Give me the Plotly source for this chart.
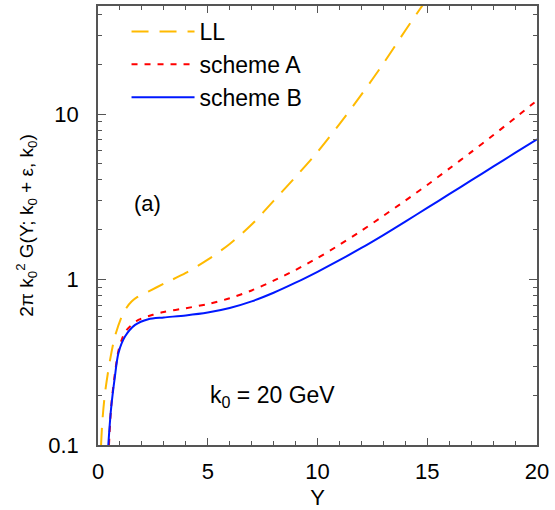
import math
import plotly.graph_objects as go

# LL
Y_LL = [0.14, 0.2, 0.32, 0.55, 0.77, 1.08, 1.3, 1.53, 1.8, 2.29, 3.0, 4.0, 5.0, 6.0, 7.0, 8.0, 9.0,
        10.0, 11.0, 12.0, 13.0, 14.0, 15.0]
G_LL = [0.1, 0.14, 0.206, 0.327, 0.452, 0.597, 0.675, 0.736, 0.785, 0.846, 0.944, 1.096, 1.318, 1.64, 2.15, 2.99, 4.17,
        5.9, 8.7, 13.1, 20.2, 32.0, 50.0]

# scheme A
Y_A = [0.5, 0.6, 0.77, 0.93, 1.1, 1.31, 1.84, 2.5, 3.0, 4.0, 5.0, 6.0, 7.0, 8.0, 9.0,
       10.0, 11.0, 12.0, 13.0, 14.0, 15.0, 16.0, 17.0, 18.0, 19.0, 20.0]
G_A = [0.1, 0.17, 0.27, 0.37, 0.44, 0.497, 0.57, 0.612, 0.637, 0.671, 0.711, 0.771, 0.859, 0.984, 1.143,
       1.349, 1.622, 1.972, 2.427, 3.0, 3.73, 4.68, 5.89, 7.45, 9.46, 12.1]

# scheme B
Y_B = [0.47, 0.59, 0.77, 0.93, 1.23, 1.69, 2.29, 3.0, 4.0, 5.0, 6.0, 7.0, 8.0, 9.0,
       10.0, 11.0, 12.0, 13.0, 14.0, 15.0, 16.0, 17.0, 18.0, 19.0, 20.0]
G_B = [0.1, 0.163, 0.259, 0.359, 0.452, 0.532, 0.576, 0.590, 0.607, 0.632, 0.673, 0.738, 0.832, 0.957,
       1.114, 1.309, 1.552, 1.858, 2.239, 2.710, 3.281, 3.972, 4.808, 5.821, 7.047]

X_TICKS = [0, 5, 10, 15, 20]
Y_TICKS = [0.1, 1, 10]
Y_TICK_TEXT = ["0.1", "1", "10"]
Y_MINOR = [0.2, 0.3, 0.4, 0.5, 0.6, 0.7, 0.8, 0.9, 2, 3, 4, 5, 6, 7, 8, 9, 20, 30, 40]

FONT = "Liberation Sans, Arial, sans-serif"
FS = 22

fig = go.Figure()
fig.add_trace(go.Scatter(x=Y_LL, y=G_LL, mode="lines", name="LL", legendgroup="g1",
                         line=dict(color="#FFBA00", width=2, dash="17px,11px", shape="spline", smoothing=0.8)))
fig.add_trace(go.Scatter(x=Y_A, y=G_A, mode="lines", name="scheme A", legendgroup="g2",
                         line=dict(color="#FF0000", width=2, dash="6px,7px", shape="spline", smoothing=0.8)))
fig.add_trace(go.Scatter(x=Y_B, y=G_B, mode="lines", name="scheme B", legendgroup="g3",
                         line=dict(color="#0018FF", width=2, shape="spline", smoothing=0.8)))

fig.update_layout(
    width=555, height=510,
    margin=dict(l=98, r=18, t=6, b=65),
    plot_bgcolor="white", paper_bgcolor="white",
    font=dict(family=FONT, size=FS, color="black"),
    showlegend=True,
    legend=dict(x=0.065, y=0.991, xanchor="left", yanchor="top", bgcolor="rgba(0,0,0,0)",
                font=dict(size=23, family=FONT), itemwidth=63, tracegroupgap=0,
                traceorder="grouped"),
    annotations=[
        dict(text="(a)", x=0.077, y=0.551, xref="paper", yref="paper", xanchor="left",
             yanchor="middle", showarrow=False, font=dict(size=FS, family=FONT)),
        dict(text="k<sub>0</sub> = 20 GeV", x=0.251, y=0.11, xref="paper", yref="paper",
             xanchor="left", yanchor="middle", showarrow=False, font=dict(size=23, family=FONT)),
    ],
)

fig.update_xaxes(range=[0, 20], tickvals=X_TICKS, ticks="inside", ticklen=7, tickcolor="#555",
                 minor=dict(ticks="inside", ticklen=4, dtick=1, tickcolor="#555", showgrid=False),
                 showline=True, linecolor="#555", linewidth=1.5, mirror="ticks",
                 showgrid=False, zeroline=False, ticklabelstandoff=6, automargin=False,
                 title=dict(text="Y", standoff=16, font=dict(size=FS)))
fig.update_yaxes(type="log", range=[-1, math.log10(45)], tickvals=Y_TICKS, ticktext=Y_TICK_TEXT,
                 ticks="inside", ticklen=8, tickcolor="#555",
                 minor=dict(ticks="inside", ticklen=4, tickvals=Y_MINOR, tickcolor="#555", showgrid=False),
                 showline=True, linecolor="#555", linewidth=1.5, mirror="ticks",
                 showgrid=False, zeroline=False, ticklabelstandoff=13, automargin=False,
                 title=dict(text="2π k<sub>0</sub><sup>2</sup> G(Y; k<sub>0</sub> + ε, k<sub>0</sub>)",
                            standoff=10, font=dict(size=19)))

fig.write_html("out.html", config={"displayModeBar": False},
               post_script="document.body.style.margin='0';")
